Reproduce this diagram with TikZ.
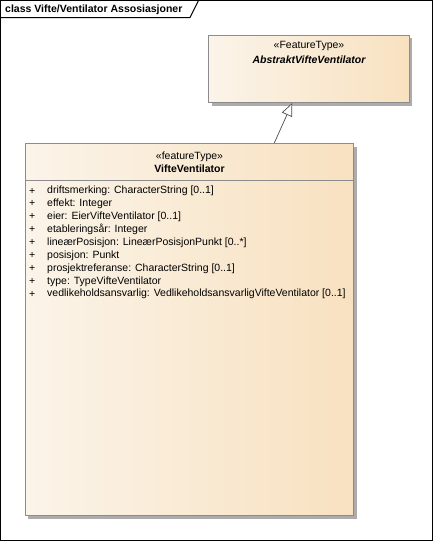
\documentclass[tikz,border=0pt]{standalone}
\usepackage{fontspec}
\setmainfont{Liberation Sans}
\usepackage{xcolor}
\usepackage{tikz}
\usetikzlibrary{arrows.meta, positioning, shadows}
\definecolor{classLight}{RGB}{251, 244, 233}
\definecolor{classDark}{RGB}{248, 225, 192}
\definecolor{classBorder}{RGB}{140, 140, 140}
\definecolor{shadowGray}{RGB}{172, 172, 172}
\definecolor{arrowGray}{RGB}{75, 75, 75}

\begin{document}
\begin{tikzpicture}[x=1pt, y=-1pt,
    umltext/.style={inner sep=0pt, font=\fontsize{10.5}{12}\selectfont},
    classbox/.style={draw=classBorder, line width=0.8pt, left color=classLight, right color=classDark,
        drop shadow={shadow xshift=3pt, shadow yshift=-3pt, fill=shadowGray, opacity=1}},
    attr/.style={umltext, anchor=west},
    generalization/.style={draw=arrowGray, line width=0.7pt,
        -{Triangle[open, length=13pt, width=11pt, fill=white]}}]
    \useasboundingbox (0,0) rectangle (433,542);

    % Frame
    \draw[line width=1pt] (0.5,0.5) rectangle (432,540.5);
    \draw[line width=1pt] (0.5,17.5) -- (190,17.5) -- (198.5,0.5);
    \node[umltext, anchor=west, font=\fontsize{10.5}{12}\selectfont\bfseries] (title) at (5,9.5) {class Vifte/Ventilator Assosiasjoner};

    % Classes
    \node[classbox, minimum width=200.5pt, minimum height=67.5pt] (abstrakt) at (308.75,68.75) {};
    \node[classbox, minimum width=328.5pt, minimum height=372pt] (vifte) at (189.25,329.5) {};
    \draw[classBorder, line width=0.8pt] ([yshift=-37pt]vifte.north west) -- ([yshift=-37pt]vifte.north east);

    % Class names
    \node[umltext] (abstraktStereo) at (309,46) {«FeatureType»};
    \node[umltext, font=\fontsize{10.5}{12}\selectfont\bfseries\itshape] (abstraktName) at (309,60) {AbstraktVifteVentilator};
    \node[umltext] (vifteStereo) at (189.5,156.5) {«featureType»};
    \node[umltext, font=\fontsize{10.5}{12}\selectfont\bfseries] (vifteName) at (189.5,168.5) {VifteVentilator};

    % Attributes
    \foreach \i/\txt in {0/{driftsmerking: CharacterString [0..1]},
                         1/{effekt: Integer},
                         2/{eier: EierVifteVentilator [0..1]},
                         3/{etableringsår: Integer},
                         4/{lineærPosisjon: LineærPosisjonPunkt [0..*]},
                         5/{posisjon: Punkt},
                         6/{prosjektreferanse: CharacterString [0..1]},
                         7/{type: TypeVifteVentilator},
                         8/{vedlikeholdsansvarlig: VedlikeholdsansvarligVifteVentilator [0..1]}} {
        \node[attr] (plus\i) at (29,191+12.9*\i) {+};
        \node[attr] (attr\i) at (47,191+12.9*\i) {\txt};
    }

    % Generalization
    \draw[generalization] ([xshift=85pt]vifte.north) -- ([xshift=-16.5pt]abstrakt.south);
\end{tikzpicture}
\end{document}
